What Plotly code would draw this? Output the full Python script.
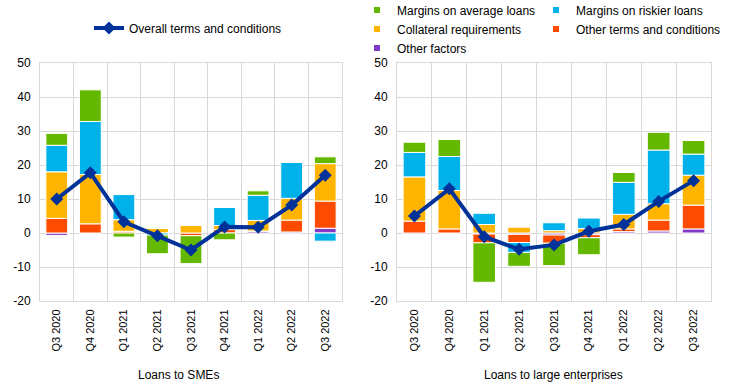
import plotly.graph_objects as go

categories = ["Q3 2020", "Q4 2020", "Q1 2021", "Q2 2021", "Q3 2021",
              "Q4 2021", "Q1 2022", "Q2 2022", "Q3 2022"]

# Loans to SMEs
sme_other_factors = [-0.7, 0, 0, 0, 0, 0, 0.4, 0.3, 1.4]
sme_other_terms = [4.3, 2.7, 0.5, 0, -0.8, 1.0, 0.2, 3.5, 8.0]
sme_collateral = [13.7, 14.5, 3.4, 1.3, 2.2, 1.2, 3.1, 6.4, 11.0]
sme_riskier = [7.8, 15.6, 7.4, -0.6, 0.3, 5.3, 7.4, 10.6, -2.4]
sme_average = [3.5, 9.3, -1.2, -5.5, -8.2, -2.0, 1.3, 0, 2.0]
sme_overall = [10.0, 17.7, 3.3, -0.8, -5.0, 1.8, 1.7, 8.2, 17.0]

# Loans to large enterprises
le_other_factors = [-0.3, 0, -0.3, -0.4, -0.6, -0.5, 0.4, 0.6, 1.2]
le_other_terms = [3.5, 1.2, -2.6, -2.4, -2.4, -0.9, 0.8, 3.2, 7.0]
le_collateral = [13.0, 11.3, 2.5, 1.7, 0.7, 1.3, 4.3, 4.8, 8.8]
le_riskier = [7.2, 10.0, 3.3, -2.9, 2.3, 3.1, 9.4, 15.8, 6.2]
le_average = [3.0, 5.0, -11.6, -4.1, -6.6, -5.0, 2.9, 5.2, 4.0]
le_overall = [5.0, 13.0, -1.1, -4.8, -3.5, 0.5, 2.5, 9.3, 15.4]

y_tickvals = [-20, -10, 0, 10, 20, 30, 40, 50]
y_ticktext = ["-20", "-10", "0", "10", "20", "30", "40", "50"]

series_names = ["Other factors", "Other terms and conditions", "Collateral requirements",
                "Margins on riskier loans", "Margins on average loans"]
series_colors = ["#8139C6", "#FF4B00", "#FFB400", "#00B1EA", "#65B800"]
line_name = "Overall terms and conditions"
line_color = "#003299"

W, H = 744, 385
L, R, T, B = 0, 0, 63, 84
plot_h = H - T - B

def px_x(p):
    return p / W

def px_y(p):
    return (H - B - p) / plot_h

fig = go.Figure()

panels = [
    ([sme_other_factors, sme_other_terms, sme_collateral, sme_riskier, sme_average], sme_overall, "x", "y"),
    ([le_other_factors, le_other_terms, le_collateral, le_riskier, le_average], le_overall, "x2", "y2"),
]

for vals_list, overall, xa, ya in panels:
    for name, color, vals in zip(series_names, series_colors, vals_list):
        fig.add_trace(go.Bar(
            x=categories, y=vals, name=name, marker_color=color,
            marker_line=dict(color="white", width=1),
            xaxis=xa, yaxis=ya, showlegend=False, hoverinfo="skip",
        ))
    fig.add_trace(go.Scatter(
        x=categories, y=overall, name=line_name, mode="lines+markers",
        line=dict(color=line_color, width=4),
        marker=dict(symbol="diamond", size=10, color=line_color),
        xaxis=xa, yaxis=ya, showlegend=(xa == "x"), legend="legend",
    ))

# legend entries for bar series: two columns as in the reference
legend_cols = [
    ("legend2", [4, 2, 0]),
    ("legend3", [3, 1]),
]
for lg, idxs in legend_cols:
    for i in idxs:
        fig.add_trace(go.Scatter(
            x=[None], y=[None], mode="markers", name=series_names[i],
            marker=dict(symbol="square", size=6, color=series_colors[i]),
            xaxis="x2", yaxis="y2", showlegend=True, legend=lg,
        ))

font = dict(family="Liberation Sans, Arial, sans-serif", size=12, color="#000000")
grid = "#d9d9d9"

xcommon = dict(type="category", tickangle=-90, tickson="boundaries", showgrid=True,
               gridcolor=grid, gridwidth=1, ticks="", showline=True, linecolor=grid,
               mirror=True, range=[-0.5, 8.5], tickfont=dict(size=11),
               ticklabelstandoff=3,
               categoryorder="array", categoryarray=categories)
ycommon = dict(range=[-20, 50], tickvals=y_tickvals, ticktext=y_ticktext,
               showgrid=True, gridcolor=grid, gridwidth=1, zeroline=False,
               showline=True, linecolor=grid, mirror=True, ticks="",
               ticklabelstandoff=6, tickfont=dict(size=12))

legend_common = dict(bgcolor="rgba(0,0,0,0)", borderwidth=0,
                     font=dict(size=12), yanchor="middle", xanchor="left",
                     itemclick=False, itemdoubleclick=False, tracegroupgap=0)

fig.update_layout(
    width=W, height=H, margin=dict(l=L, r=R, t=T, b=B, autoexpand=False),
    paper_bgcolor="white", plot_bgcolor="white",
    font=font, barmode="relative", bargap=0.35,
    xaxis=dict(domain=[px_x(40), px_x(342)], anchor="y", **xcommon),
    yaxis=dict(domain=[0, 1], anchor="x", **ycommon),
    xaxis2=dict(domain=[px_x(397), px_x(711)], anchor="y2", **xcommon),
    yaxis2=dict(domain=[0, 1], anchor="x2", **ycommon),
    legend=dict(x=px_x(89), y=px_y(28), orientation="h", **legend_common),
    legend2=dict(x=px_x(357), y=px_y(29), orientation="v", **legend_common),
    legend3=dict(x=px_x(536), y=px_y(19.5), orientation="v", **legend_common),
    annotations=[
        dict(text="Loans to SMEs", x=px_x(178), y=px_y(375), xref="paper", yref="paper",
             showarrow=False, xanchor="center", yanchor="middle", font=dict(size=12)),
        dict(text="Loans to large enterprises", x=px_x(553), y=px_y(375), xref="paper",
             yref="paper", showarrow=False, xanchor="center", yanchor="middle",
             font=dict(size=12)),
    ],
)

fig.write_html("out.html", config={"displayModeBar": False},
               post_script="document.body.style.margin='0';")
